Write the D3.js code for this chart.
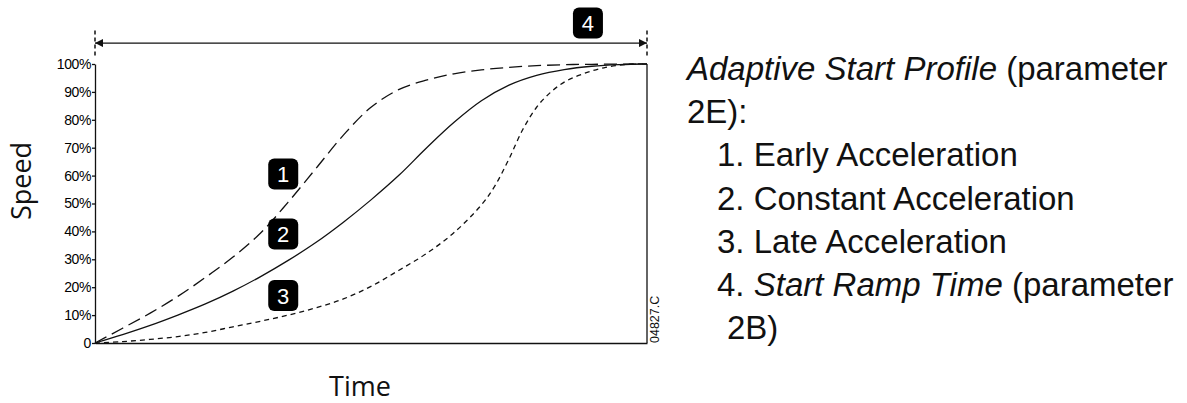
<!DOCTYPE html>
<html><head><meta charset="utf-8">
<script src="https://cdn.jsdelivr.net/npm/d3@7"></script>
<style>
html,body{margin:0;padding:0;background:#fff;}
svg{display:block;}
</style></head>
<body>
<svg id="chart" width="1187" height="403"></svg>
<script>
// ---- data (time % of ramp, speed %) ----
const yTicks = [0,10,20,30,40,50,60,70,80,90,100];
const earlyTime  = [0,5,10,15,20,25,30,35,40,45,50,55,60,65,70,75,80,85,90,100];
const earlySpeed = [0,5.3,10.7,16.7,23.5,30.8,39.4,50.5,62.5,74.5,84.5,90.8,94.2,96.5,97.9,98.8,99.4,99.75,99.9,100];
const constTime  = [0,5,10,15,20,25,30,35,40,45,50,55,60,65,70,75,80,85,90,95,100];
const constSpeed = [0,3,6.3,10,14,18.6,23.8,29.6,36,43.3,51.3,60,69.8,79,86.8,92.4,95.9,98,99.2,99.8,100];
const lateTime   = [0,5,10,15,20,25,30,35,40,45,50,55,60,65,70,72.5,75,77.5,80,82.5,85,87.5,90,92.5,95,97.5,100];
const lateSpeed  = [0,0.5,1.3,2.3,3.8,5.8,7.8,10,12.6,15.8,20.3,26,32,39.5,49.5,56.5,66,76.5,84.5,89.8,93.5,95.8,97.5,98.8,99.6,100,100];
const badgeLabels = ["1","2","3","4"];
const badgeTime   = [34.1,34.1,34.1,89.3];
const badgeSpeed  = [60.6,39.1,17.0,114.7];
const legendLines = [
  [{t:"Adaptive Start Profile",i:true},{t:" (parameter",i:false}],
  [{t:"2E):",i:false}],
  [{t:"1. Early Acceleration",i:false}],
  [{t:"2. Constant Acceleration",i:false}],
  [{t:"3. Late Acceleration",i:false}],
  [{t:"4. ",i:false},{t:"Start Ramp Time",i:true},{t:" (parameter",i:false}],
  [{t:"2B)",i:false}]
];
const legendIndent = [0,0,1,1,1,1,2];

// ---- layout ----
const svg = d3.select("#chart");
const L = 95, R = 647, T = 64, B = 343;
const x = d3.scaleLinear().domain([0,100]).range([L,R]);
const y = d3.scaleLinear().domain([0,100]).range([B,T]);
const ink = "#111";

// y axis
const yAxis = d3.axisLeft(y).tickValues(yTicks)
  .tickFormat(d => d===0 ? "0" : d+"%").tickSize(3).tickSizeOuter(0).tickPadding(1);
const gy = svg.append("g").attr("transform",`translate(${L},0)`).call(yAxis);
gy.selectAll("text").attr("font-family","Liberation Sans, Arial, sans-serif")
  .attr("font-size",14).attr("fill","#000").attr("letter-spacing","-0.4");
gy.selectAll("line,path").attr("stroke",ink).attr("stroke-width",1.3);

// x axis (line only)
const gx = svg.append("g").attr("transform",`translate(0,${B})`)
  .call(d3.axisBottom(x).tickValues([]).tickSizeOuter(0));
gx.select("path").attr("stroke",ink).attr("stroke-width",1.5);

// right frame
svg.append("line").attr("x1",x(100)).attr("x2",x(100)).attr("y1",y(100)).attr("y2",y(0))
  .attr("stroke",ink).attr("stroke-width",1.3);

// curves
const line = d3.line().x(d=>x(d[0])).y(d=>y(d[1])).curve(d3.curveCatmullRom.alpha(0.5));
const series = [
  {t:earlyTime, s:earlySpeed, dash:"13,6"},
  {t:constTime, s:constSpeed, dash:null},
  {t:lateTime,  s:lateSpeed,  dash:"5,4"}
];
series.forEach(se=>{
  const pts = se.t.map((v,i)=>[v,se.s[i]]);
  svg.append("path").attr("d",line(pts)).attr("fill","none")
    .attr("stroke",ink).attr("stroke-width",1.3)
    .attr("stroke-dasharray",se.dash);
});

// ramp-time arrow
const defs = svg.append("defs");
defs.append("marker").attr("id","ah").attr("viewBox","0 0 10 10").attr("refX",10).attr("refY",5)
  .attr("markerWidth",10).attr("markerHeight",8).attr("markerUnits","userSpaceOnUse")
  .attr("orient","auto-start-reverse")
  .append("path").attr("d","M0,0 L10,5 L0,10 Z").attr("fill",ink);
const arrowY = y(107.5);
svg.append("line").attr("x1",x(0)).attr("x2",x(100)).attr("y1",arrowY).attr("y2",arrowY)
  .attr("stroke",ink).attr("stroke-width",1.3)
  .attr("marker-start","url(#ah)").attr("marker-end","url(#ah)");
[0,100].forEach(v=>{
  svg.append("line").attr("x1",x(v)).attr("x2",x(v)).attr("y1",y(112)).attr("y2",y(103))
    .attr("stroke",ink).attr("stroke-width",1.5).attr("stroke-dasharray","4,3");
});

// badges
badgeLabels.forEach((lab,i)=>{
  const cx = x(badgeTime[i]), cy = y(badgeSpeed[i]);
  svg.append("rect").attr("x",cx-15).attr("y",cy-15.5).attr("width",30).attr("height",31)
    .attr("rx",6).attr("fill","#000");
  svg.append("text").attr("x",cx).attr("y",cy+8).attr("text-anchor","middle")
    .attr("font-family","Liberation Sans, Arial, sans-serif").attr("font-size",22)
    .attr("fill","#fff").text(lab);
});

// axis titles
svg.append("text").attr("transform",`translate(31,181) rotate(-90)`).attr("text-anchor","middle")
  .attr("font-family","Open Sans, sans-serif").attr("font-size",27).attr("fill",ink).text("Speed");
svg.append("text").attr("x",360).attr("y",396).attr("text-anchor","middle")
  .attr("font-family","Open Sans, sans-serif").attr("font-size",27).attr("fill",ink).text("Time");

// drawing number
svg.append("text").attr("transform",`translate(${x(100)+12},${y(0)}) rotate(-90)`)
  .attr("font-family","Liberation Sans, Arial, sans-serif").attr("font-size",12.5)
  .attr("fill",ink).text("04827.C");

// legend text
const lg = svg.append("g").attr("font-family","Liberation Sans, Arial, sans-serif")
  .attr("font-size",33).attr("fill",ink);
legendLines.forEach((parts,i)=>{
  const t = lg.append("text").attr("x",687 + [0,30,40][legendIndent[i]]).attr("y",80 + i*43.2);
  parts.forEach(p=>{
    t.append("tspan").attr("font-style",p.i?"italic":"normal").text(p.t);
  });
});
</script>
</body></html>
